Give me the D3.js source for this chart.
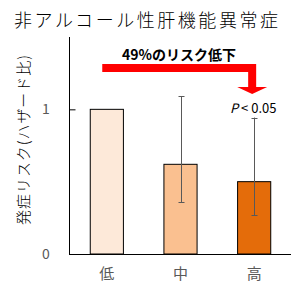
<!DOCTYPE html>
<html>
<head>
<meta charset="utf-8">
<script src="https://cdn.jsdelivr.net/npm/d3@7"></script>
<style>
  body { margin: 0; background: #fff; }
  text { font-family: "Noto Sans CJK JP", "Noto Sans", sans-serif; }
</style>
</head>
<body>
<svg id="chart" width="306" height="294"></svg>
<script>
// Data.
const categories = [ '低', '中', '高' ];
const hazard     = [ 1.00, 0.62, 0.50 ];
const ciLow      = [ null, 0.357, 0.267 ];
const ciHigh     = [ null, 1.09, 0.943 ];
const barColors  = [ '#FDE9D9', '#FAC090', '#E46C0A' ];
const yTicks     = [ 0, 1 ];

const svg = d3.select( '#chart' );
const margin = { top: 37, left: 70, right: 15, bottom: 40 };
const W = 306, H = 294;

const x = d3.scaleBand( )
  .domain( categories )
  .range( [ margin.left, W - margin.right ] )
  .paddingInner( 0.55 )
  .paddingOuter( 0.275 );
const y = d3.scaleLinear( )
  .domain( [ 0, 1.5 ] )
  .range( [ H - margin.bottom, margin.top ] );

// Title.
svg.append( 'text' )
  .attr( 'x', 14 ).attr( 'y', 27 )
  .attr( 'font-size', 18 )
  .attr( 'font-weight', 300 )
  .attr( 'textLength', 264 )
  .attr( 'fill', '#000' )
  .text( '非アルコール性肝機能異常症' );

// Bars.
svg.selectAll( 'rect.bar' )
  .data( hazard )
  .enter( ).append( 'rect' )
    .attr( 'class', 'bar' )
    .attr( 'x', ( d, i ) => x( categories[i] ) )
    .attr( 'width', x.bandwidth( ) )
    .attr( 'y', d => y( d ) )
    .attr( 'height', d => y( 0 ) - y( d ) )
    .attr( 'fill', ( d, i ) => barColors[i] )
    .attr( 'stroke', '#000' )
    .attr( 'stroke-width', 1 );

// Error bars.
const err = svg.append( 'g' ).attr( 'stroke', '#595959' ).attr( 'stroke-width', 1 );
categories.forEach( ( c, i ) => {
  if ( ciLow[i] == null ) return;
  const cx = Math.round( x( c ) + x.bandwidth( ) / 2 ) + 0.5;
  err.append( 'line' ).attr( 'x1', cx ).attr( 'x2', cx ).attr( 'y1', y( ciLow[i] ) ).attr( 'y2', y( ciHigh[i] ) );
  [ ciLow[i], ciHigh[i] ].forEach( v => {
    const yy = Math.round( y( v ) ) + 0.5;
    err.append( 'line' ).attr( 'x1', cx - 3 ).attr( 'x2', cx + 3 ).attr( 'y1', yy ).attr( 'y2', yy );
  } );
} );

// Axes.
const yAxis = svg.append( 'g' )
  .attr( 'transform', `translate( ${margin.left - 0.5}, 0 )` )
  .call( d3.axisRight( y ).tickValues( yTicks ).tickSize( 6 ).tickFormat( '' ) );
yAxis.select( '.domain' ).attr( 'd', `M0,${y( 0 )}V${margin.top}` ).attr( 'stroke', '#000' );
yAxis.selectAll( '.tick line' ).attr( 'stroke', '#000' );
yAxis.selectAll( '.tick' ).filter( d => d === 0 ).select( 'line' ).remove( );

svg.selectAll( 'text.ytick' )
  .data( yTicks )
  .enter( ).append( 'text' )
    .attr( 'class', 'ytick' )
    .attr( 'x', 46 )
    .attr( 'y', d => y( d ) + 5 )
    .attr( 'text-anchor', 'middle' )
    .attr( 'font-size', 14 )
    .attr( 'fill', '#595959' )
    .text( d => d );

svg.append( 'line' )
  .attr( 'x1', margin.left - 1 ).attr( 'x2', W - margin.right )
  .attr( 'y1', y( 0 ) + 0.5 ).attr( 'y2', y( 0 ) + 0.5 )
  .attr( 'stroke', '#000' );

svg.selectAll( 'text.xtick' )
  .data( categories )
  .enter( ).append( 'text' )
    .attr( 'class', 'xtick' )
    .attr( 'x', d => x( d ) + x.bandwidth( ) / 2 )
    .attr( 'y', 279 )
    .attr( 'text-anchor', 'middle' )
    .attr( 'font-size', 15 )
    .attr( 'fill', '#595959' )
    .text( d => d );

// Y label.
svg.append( 'text' )
  .attr( 'transform', 'translate( 29, 140 ) rotate( -90 )' )
  .attr( 'text-anchor', 'middle' )
  .attr( 'font-size', 15 )
  .attr( 'font-weight', 300 )
  .attr( 'textLength', 170 )
  .attr( 'fill', '#000' )
  .text( '発症リスク(ハザード比)' );

// Annotation arrow.
const tipX = x( '高' ) + x.bandwidth( ) / 2 - 2;
const x0 = x( '低' ) + 12;
const yTop = 64, t = 8;
svg.append( 'path' )
  .attr( 'd', `M${x0},${yTop}H${tipX + t / 2}V${87}H${tipX + 15}L${tipX},${94}L${tipX - 15},${87}H${tipX - t / 2}V${yTop + t}H${x0}Z` )
  .attr( 'fill', '#FF0000' );

svg.append( 'text' )
  .attr( 'x', 179 ).attr( 'y', 60 )
  .attr( 'text-anchor', 'middle' )
  .attr( 'font-size', 14 )
  .attr( 'font-weight', 'bold' )
  .attr( 'fill', '#000' )
  .text( '49%のリスク低下' );

const p = svg.append( 'text' )
  .attr( 'x', tipX + 1 ).attr( 'y', 113 )
  .attr( 'text-anchor', 'middle' )
  .attr( 'font-size', 13 )
  .attr( 'fill', '#000' );
p.append( 'tspan' ).attr( 'font-style', 'italic' ).text( 'P' );
p.append( 'tspan' ).text( ' < 0.05' );
</script>
</body>
</html>
